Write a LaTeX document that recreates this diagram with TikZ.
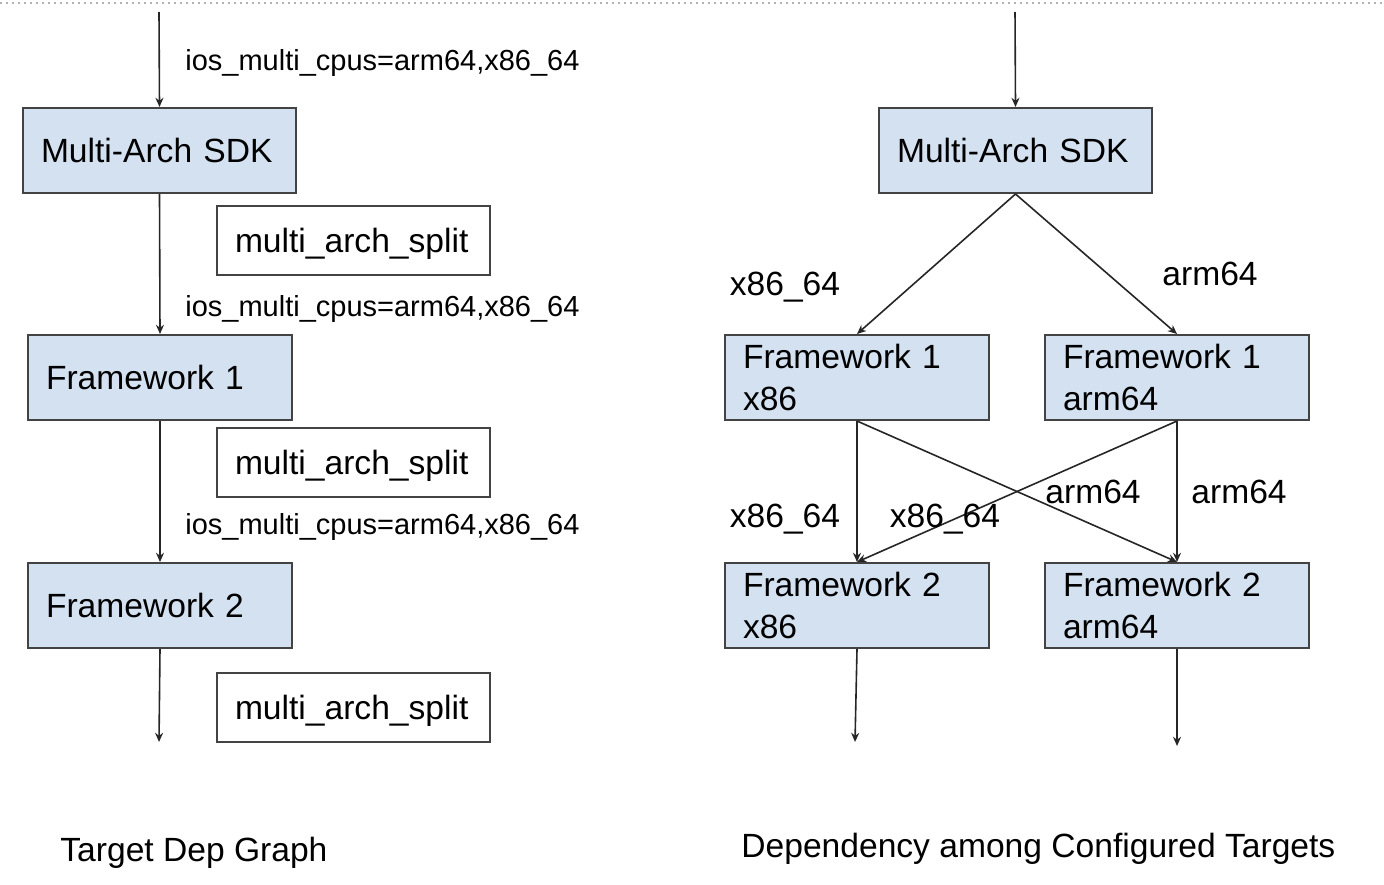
\documentclass[tikz,border=0pt]{standalone}
\usepackage{fontspec}
\setmainfont{Liberation Sans}
\usetikzlibrary{positioning, arrows.meta}
\definecolor{boxblue}{HTML}{D3E1F1}
\definecolor{boxline}{HTML}{434343}

\begin{document}
\begin{tikzpicture}[
                x=0.5pt, y=-0.5pt,
                >={Stealth[length=4.6pt, width=4pt]},
                every node/.style={font=\fontsize{16.8}{21}\selectfont},
                target/.style={rectangle, draw=boxline, line width=1pt, fill=boxblue, minimum height=42.5pt, inner xsep=9pt, inner ysep=0pt, align=left, anchor=north west},
                solo/.style={target, text depth=0pt},
                split/.style={rectangle, draw=boxline, line width=1pt, fill=white, minimum height=34.5pt, text width=118.5pt, text depth=0pt, inner xsep=9pt, inner ysep=0pt, align=left, anchor=north west},
                dep/.style={->, line width=0.8pt, draw=black!85},
                flag/.style={anchor=west, inner sep=0pt, text depth=0pt, font=\fontsize{14.5}{17}\selectfont},
                arch/.style={inner sep=0pt, text depth=0pt},
                caption/.style={anchor=west, inner sep=0pt, text depth=0pt},
            ]
                \useasboundingbox (0,0) rectangle (1384,884);
                \draw[gray!60, line width=1pt, dash pattern=on 1.2pt off 1.8pt] (0,3) -- (1384,3);

                % Target dep graph, left
                \node[solo, text width=118.5pt] (sdkL) at (22,107) {Multi-Arch SDK};
                \node[solo, text width=114pt] (fwL-1) at (27,334) {Framework 1};
                \node[solo, text width=114pt] (fwL-2) at (27,562) {Framework 2};

                \foreach \name / \y in {1/205, 2/427, 3/672}
                    \node[split] (split-\name) at (216,\y) {multi\_arch\_split};

                \foreach \name / \y in {1/60, 2/306, 3/524}
                    \node[flag] (flag-\name) at (185,\y) {ios\_multi\_cpus=arm64,x86\_64};

                \coordinate (inL) at (159,12);
                \coordinate (outL) at (159,742);
                \draw[dep] (inL) -- (sdkL.north);
                \draw[dep] (sdkL.south) -- (fwL-1.north);
                \draw[dep] (fwL-1.south) -- (fwL-2.north);
                \draw[dep] (fwL-2.south) -- (outL);

                % Configured targets, right
                \node[solo, text width=118.5pt] (sdkR) at (878,107) {Multi-Arch SDK};
                \node[target, text width=114pt] (fw1-x86) at (724,334) {Framework 1\\x86};
                \node[target, text width=114pt] (fw1-arm) at (1044,334) {Framework 1\\arm64};
                \node[target, text width=114pt] (fw2-x86) at (724,562) {Framework 2\\x86};
                \node[target, text width=114pt] (fw2-arm) at (1044,562) {Framework 2\\arm64};

                \coordinate (inR) at (1015,12);
                \coordinate (outR-x86) at (855,742);
                \coordinate (outR-arm) at (1177,746);
                \draw[dep] (inR) -- (sdkR.north);
                \draw[dep] (sdkR.south) -- (fw1-x86.north);
                \draw[dep] (sdkR.south) -- (fw1-arm.north);
                \foreach \source in {x86, arm}
                    \foreach \dest in {x86, arm}
                        \draw[dep] (fw1-\source.south) -- (fw2-\dest.north);
                \draw[dep] (fw2-x86.south) -- (outR-x86);
                \draw[dep] (fw2-arm.south) -- (outR-arm);

                \node[arch] (lbl-1) at (785,284) {x86\_64};
                \node[arch] (lbl-2) at (1210,274) {arm64};
                \node[arch] (lbl-3) at (785,516) {x86\_64};
                \node[arch] (lbl-4) at (945,516) {x86\_64};
                \node[arch] (lbl-5) at (1093,492) {arm64};
                \node[arch] (lbl-6) at (1239,492) {arm64};

                % Captions
                \node[caption] (capL) at (60,849) {Target Dep Graph};
                \node[caption] (capR) at (741,845) {Dependency among Configured Targets};
            \end{tikzpicture}
\end{document}
